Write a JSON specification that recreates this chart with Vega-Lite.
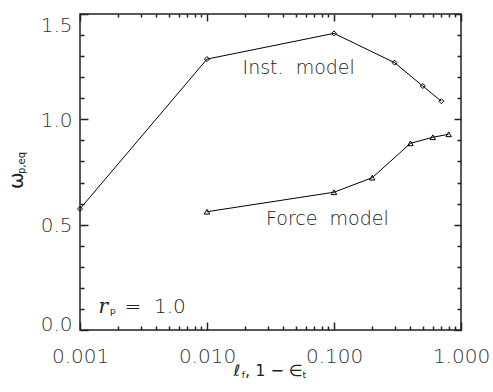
{
  "$schema": "https://vega.github.io/schema/vega-lite/v6.json",
  "width": 381,
  "height": 316,
  "autosize": {"type": "none"},
  "padding": {"left": 80, "top": 14, "right": 32, "bottom": 62},
  "background": "white",
  "config": {
    "view": {"stroke": "#222222", "strokeWidth": 1.5},
    "axis": {"grid": false, "domain": false, "tickColor": "#222222", "tickWidth": 1.5, "labelFont": "DejaVu Sans", "labelFontSize": 20, "labelFontWeight": 200, "labelColor": "#333", "labelOverlap": false, "labelBound": false, "labelFlush": false, "title": null}
  },
  "datasets": {
    "inst": [
      {"x": 0.001, "y": 0.575},
      {"x": 0.01, "y": 1.286},
      {"x": 0.1, "y": 1.408},
      {"x": 0.3, "y": 1.269},
      {"x": 0.5, "y": 1.158},
      {"x": 0.7, "y": 1.086}
    ],
    "force": [
      {"x": 0.01, "y": 0.5615},
      {"x": 0.1, "y": 0.654},
      {"x": 0.2, "y": 0.723},
      {"x": 0.4, "y": 0.886},
      {"x": 0.6, "y": 0.915},
      {"x": 0.8, "y": 0.929}
    ],
    "annot": [
      {"x": 0.01905, "y": 1.215, "text": "Inst.\u00a0 model"},
      {"x": 0.02915, "y": 0.5, "text": "Force\u00a0 model"}
    ],
    "rp": [
      {"x": 0.00224, "y": 0.082, "text": "=\u00a0 1.0"}
    ],
    "rsym": [
      {"x": 0.0014, "y": 0.082, "text": "r"}
    ],
    "subs": [
      {"x": 0.00172, "y": 0.074, "text": "p"},
      {"x": 0.01875, "y": -0.228, "text": "f"},
      {"x": 0.0565, "y": -0.228, "text": "t"}
    ],
    "xtitle": [
      {"x": 0.01617, "y": -0.218, "text": "ℓ"},
      {"x": 0.0199, "y": -0.218, "text": ", 1 − ∈"}
    ],
    "ytitle": [
      {"x": 0.000359, "y": 0.669, "text": "ω"}
    ],
    "ytitlesub": [
      {"x": 0.000366, "y": 0.7405, "text": "p,eq"}
    ]
  },
  "layer": [
    {
      "data": {"name": "inst"},
      "mark": {"type": "line", "color": "black", "strokeWidth": 1},
      "encoding": {
        "x": {"field": "x", "type": "quantitative", "scale": {"type": "log", "domain": [0.001, 1], "nice": false},
          "axis": {"orient": "bottom", "values": [0.001, 0.01, 0.1, 1], "format": ".3f", "tickSize": -8, "labelPadding": 24}},
        "y": {"field": "y", "type": "quantitative", "scale": {"domain": [0, 1.5], "nice": false, "zero": true},
          "axis": {"orient": "left", "values": [0, 0.5, 1, 1.5], "format": ".1f", "tickSize": -8, "labelPadding": 16,
            "labelFlush": true,
            "labelOffset": {"condition": {"test": "datum.value == 0", "value": 4}, "value": 1}}}
      }
    },
    {
      "data": {"name": "inst"},
      "mark": {"type": "point", "shape": "diamond", "filled": false, "color": "black", "strokeWidth": 1, "size": 25, "opacity": 1},
      "encoding": {
        "x": {"field": "x", "type": "quantitative", "scale": {"type": "log", "domain": [0.001, 1], "nice": false},
          "axis": {"orient": "bottom", "labels": false, "tickSize": -4,
            "values": [0.002,0.003,0.004,0.005,0.006,0.007,0.008,0.009,0.02,0.03,0.04,0.05,0.06,0.07,0.08,0.09,0.2,0.3,0.4,0.5,0.6,0.7,0.8,0.9]}},
        "y": {"field": "y", "type": "quantitative", "scale": {"domain": [0, 1.5], "nice": false},
          "axis": {"orient": "left", "labels": false, "tickSize": -4,
            "values": [0.1,0.2,0.3,0.4,0.6,0.7,0.8,0.9,1.1,1.2,1.3,1.4]}}
      }
    },
    {
      "data": {"name": "force"},
      "mark": {"type": "line", "color": "black", "strokeWidth": 1},
      "encoding": {
        "x": {"field": "x", "type": "quantitative", "scale": {"type": "log", "domain": [0.001, 1], "nice": false},
          "axis": {"orient": "top", "labels": false, "tickSize": -7, "values": [0.001, 0.01, 0.1, 1]}},
        "y": {"field": "y", "type": "quantitative", "scale": {"domain": [0, 1.5], "nice": false},
          "axis": {"orient": "right", "labels": false, "tickSize": -7, "values": [0, 0.5, 1, 1.5]}}
      }
    },
    {
      "data": {"name": "force"},
      "mark": {"type": "point", "shape": "triangle-up", "filled": false, "color": "black", "strokeWidth": 1, "size": 30, "opacity": 1},
      "encoding": {
        "x": {"field": "x", "type": "quantitative", "scale": {"type": "log", "domain": [0.001, 1], "nice": false},
          "axis": {"orient": "top", "labels": false, "tickSize": -3,
            "values": [0.002,0.003,0.004,0.005,0.006,0.007,0.008,0.009,0.02,0.03,0.04,0.05,0.06,0.07,0.08,0.09,0.2,0.3,0.4,0.5,0.6,0.7,0.8,0.9]}},
        "y": {"field": "y", "type": "quantitative", "scale": {"domain": [0, 1.5], "nice": false},
          "axis": {"orient": "right", "labels": false, "tickSize": -4,
            "values": [0.1,0.2,0.3,0.4,0.6,0.7,0.8,0.9,1.1,1.2,1.3,1.4]}}
      }
    },
    {
      "data": {"name": "annot"},
      "mark": {"type": "text", "font": "DejaVu Sans", "fontSize": 19, "fontWeight": 200, "color": "#222", "align": "left", "baseline": "alphabetic"},
      "encoding": {
        "x": {"field": "x", "type": "quantitative", "scale": {"type": "log", "domain": [0.001, 1], "nice": false}, "axis": null},
        "y": {"field": "y", "type": "quantitative", "scale": {"domain": [0, 1.5], "nice": false}, "axis": null},
        "text": {"field": "text"}
      }
    },
    {
      "data": {"name": "rp"},
      "mark": {"type": "text", "font": "DejaVu Sans", "fontSize": 20, "fontWeight": 200, "color": "#222", "align": "left", "baseline": "alphabetic"},
      "encoding": {
        "x": {"field": "x", "type": "quantitative", "scale": {"type": "log", "domain": [0.001, 1], "nice": false}, "axis": null},
        "y": {"field": "y", "type": "quantitative", "scale": {"domain": [0, 1.5], "nice": false}, "axis": null},
        "text": {"field": "text"}
      }
    },
    {
      "data": {"name": "rsym"},
      "mark": {"type": "text", "font": "DejaVu Serif", "fontStyle": "italic", "fontSize": 20, "color": "#222", "align": "left", "baseline": "alphabetic"},
      "encoding": {
        "x": {"field": "x", "type": "quantitative", "scale": {"type": "log", "domain": [0.001, 1], "nice": false}, "axis": null},
        "y": {"field": "y", "type": "quantitative", "scale": {"domain": [0, 1.5], "nice": false}, "axis": null},
        "text": {"field": "text"}
      }
    },
    {
      "data": {"name": "subs"},
      "mark": {"type": "text", "font": "DejaVu Sans", "fontSize": 9, "color": "#222", "align": "left", "baseline": "alphabetic"},
      "encoding": {
        "x": {"field": "x", "type": "quantitative", "scale": {"type": "log", "domain": [0.001, 1], "nice": false}, "axis": null},
        "y": {"field": "y", "type": "quantitative", "scale": {"domain": [0, 1.5], "nice": false}, "axis": null},
        "text": {"field": "text"}
      }
    },
    {
      "data": {"name": "xtitle"},
      "mark": {"type": "text", "font": "DejaVu Sans", "fontSize": 16, "color": "#222", "align": "left", "baseline": "alphabetic"},
      "encoding": {
        "x": {"field": "x", "type": "quantitative", "scale": {"type": "log", "domain": [0.001, 1], "nice": false}, "axis": null},
        "y": {"field": "y", "type": "quantitative", "scale": {"domain": [0, 1.5], "nice": false}, "axis": null},
        "text": {"field": "text"}
      }
    },
    {
      "data": {"name": "ytitle"},
      "mark": {"type": "text", "font": "DejaVu Sans", "fontSize": 20, "color": "#222", "align": "left", "baseline": "alphabetic", "angle": 270},
      "encoding": {
        "x": {"field": "x", "type": "quantitative", "scale": {"type": "log", "domain": [0.001, 1], "nice": false}, "axis": null},
        "y": {"field": "y", "type": "quantitative", "scale": {"domain": [0, 1.5], "nice": false}, "axis": null},
        "text": {"field": "text"}
      }
    },
    {
      "data": {"name": "ytitlesub"},
      "mark": {"type": "text", "font": "DejaVu Sans", "fontSize": 10, "color": "#222", "align": "left", "baseline": "alphabetic", "angle": 270},
      "encoding": {
        "x": {"field": "x", "type": "quantitative", "scale": {"type": "log", "domain": [0.001, 1], "nice": false}, "axis": null},
        "y": {"field": "y", "type": "quantitative", "scale": {"domain": [0, 1.5], "nice": false}, "axis": null},
        "text": {"field": "text"}
      }
    }
  ],
  "resolve": {"axis": {"x": "independent", "y": "independent"}}
}
